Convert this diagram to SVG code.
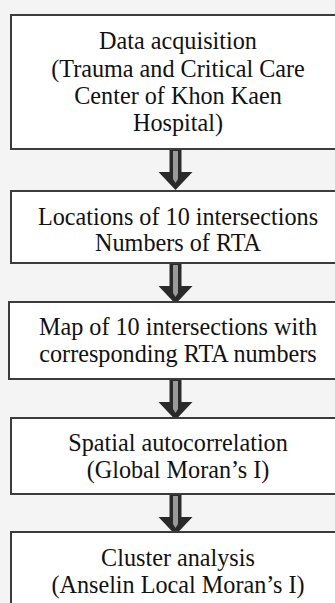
<svg xmlns="http://www.w3.org/2000/svg" width="335" height="603" viewBox="0 0 335 603">
<defs>
<style>
.box{fill:#ffffff;stroke:#3c3c3c;stroke-width:2}
.t{font-family:"Liberation Serif","Times New Roman",serif;font-size:24.2px;fill:#111;text-anchor:middle}
.ar{fill:#2a2a2a}
.ai{fill:#9a9a9a}
</style>
<g id="arrow">
<path class="ar" d="M-6,0 H6 V22 H17 L0,40 L-17,22 H-6 Z"/>
<path class="ai" d="M-2.5,1 H2.5 V29 L0,33 L-2.5,29 Z"/>
</g>
</defs>
<rect width="335" height="603" fill="#f4f4f4"/>
<g id="connectors">
<use href="#arrow" x="175.5" y="150"/>
<use href="#arrow" x="175.5" y="264"/>
<use href="#arrow" x="175.5" y="380"/>
<use href="#arrow" x="175.5" y="495"/>
</g>
<g id="n1">
<rect class="box" x="11" y="15" width="340" height="134"/>
<text class="t" x="178" y="49">Data acquisition</text>
<text class="t" x="178" y="76.5">(Trauma and Critical Care</text>
<text class="t" x="178" y="103.5">Center of Khon Kaen</text>
<text class="t" x="178" y="130.5">Hospital)</text>
</g>
<g id="n2">
<rect class="box" x="11" y="191" width="340" height="72"/>
<text class="t" x="178" y="224.5">Locations of 10 intersections</text>
<text class="t" x="178" y="251">Numbers of RTA</text>
</g>
<g id="n3">
<rect class="box" x="9" y="302" width="340" height="77"/>
<text class="t" x="178" y="335">Map of 10 intersections with</text>
<text class="t" x="178" y="362">corresponding RTA numbers</text>
</g>
<g id="n4">
<rect class="box" x="11" y="418" width="340" height="76"/>
<text class="t" x="178" y="451">Spatial autocorrelation</text>
<text class="t" x="178" y="477.5">(Global Moran’s I)</text>
</g>
<g id="n5">
<rect class="box" x="11" y="532" width="340" height="90"/>
<text class="t" x="178" y="566">Cluster analysis</text>
<text class="t" x="178" y="592.5">(Anselin Local Moran’s I)</text>
</g>
</svg>
